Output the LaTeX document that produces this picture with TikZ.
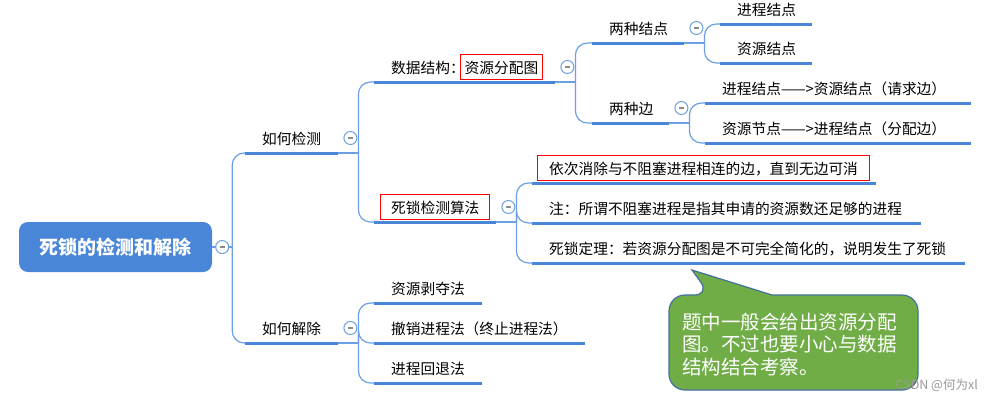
\documentclass[tikz,border=0pt]{standalone}
\usepackage{fontspec}
\setmainfont{Noto Sans CJK SC}
\definecolor{mapblue}{HTML}{4A86D8}
\definecolor{linkblue}{HTML}{6C9FE4}
\definecolor{notegreen}{HTML}{70AD47}
\definecolor{noteline}{HTML}{41719C}
\newcommand{\hl}[2]{{\fboxsep=4pt\fboxrule=1pt\kern-#1\fcolorbox{red}{white}{\kern\dimexpr#1-5pt\relax\rule[-1.5pt]{0pt}{16pt}#2\kern\dimexpr#1-5pt\relax}\kern-#1}}
\newcommand{\foldbar}{\textcolor{black!45}{\rule[-0.6pt]{5pt}{1.2pt}}}

\begin{document}
\begin{tikzpicture}[x=1pt, y=-1pt, every node/.style={font=\fontsize{14.7}{17}\selectfont},
		item/.style={anchor=south west, inner xsep=17pt, inner ysep=6.7pt, align=left,
			text height=12pt, text depth=2pt},
		uline/.style={draw=mapblue, line width=3pt},
		link/.style={draw=linkblue, line width=1.2pt, rounded corners=12pt},
		fold/.style={circle, draw=linkblue, fill=white, line width=1pt, minimum size=13pt, inner sep=0pt},
		root/.style={rectangle, rounded corners=9pt, fill=mapblue, text=white,
			font=\fontsize{19}{22}\selectfont\bfseries, minimum width=193pt, minimum height=50pt, inner sep=0pt},
		note/.style={fill=notegreen, draw=noteline, line width=1.2pt},
		notetext/.style={anchor=west, align=left, inner sep=0pt, text=white, font=\fontsize{19.5}{22.5}\selectfont}]
	\fill[white] (0,0) rectangle (993,400);
	\useasboundingbox (0,0) rectangle (993,400);

	\node[root] (dl) at (115.5,247) {死锁的检测和解除};

	\node[item, text width=59pt] (hd) at (245,153) {如何检测};
	\node[item, text width=59pt] (hr) at (245,343) {如何解除};

	\node[item, text width=147pt] (ds) at (374,82) {数据结构：\hl{5pt}{资源分配图}};
	\node[item, text width=88pt] (da) at (374,222) {\hl{11pt}{死锁检测算法}};

	\node[item, text width=58pt] (tk) at (592,43) {两种结点};
	\node[item, text width=43pt] (tb) at (592,123) {两种边};
	\node[item, text width=58pt] (pn) at (720,24) {进程结点};
	\node[item, text width=58pt] (rn) at (720,63) {资源结点};
	\node[item, text width=232pt] (re) at (705,103) {进程结点——>资源结点（请求边）};
	\node[item, text width=232pt] (ae) at (705,143) {资源节点——>进程结点（分配边）};

	\node[item, text width=310pt] (c1) at (532,183) {\hl{12pt}{依次消除与不阻塞进程相连的边，直到无边可消}};
	\node[item, text width=355pt] (c2) at (532,223) {注：所谓不阻塞进程是指其申请的资源数还足够的进程};
	\node[item, text width=399pt] (c3) at (532,263) {死锁定理：若资源分配图是不可完全简化的，说明发生了死锁};

	\node[item, text width=74pt] (r1) at (374,303) {资源剥夺法};
	\node[item, text width=177pt] (r2) at (374,343) {撤销进程法（终止进程法）};
	\node[item, text width=74pt] (r3) at (374,383) {进程回退法};

	\foreach \n in {hd,hr,ds,da,tk,tb,pn,rn,re,ae,c1,c2,c3,r1,r2,r3}
		\draw[uline] (\n.south west) -- (\n.south east);

	\coordinate (jdl) at ([xshift=20pt]dl.east);
	\draw[link] (dl.east) -- (jdl);
	\foreach \c in {hd,hr}
		\draw[link] (jdl) |- (\c.south west);

	\foreach \p/\kids in {hd/{ds,da}, hr/{r1,r2,r3}, ds/{tk,tb}, tk/{pn,rn}, tb/{re,ae}, da/{c1,c2,c3}} {
		\coordinate (j\p) at ([xshift=20pt]\p.south east);
		\draw[link] (\p.south east) -- (j\p);
		\foreach \c in \kids
			\draw[link] (j\p) |- (\c.south west);
	}

	\node[fold] (fdl) at ([xshift=10pt]dl.east) {\foldbar};
	\foreach \p in {hd,hr,ds,tk,tb,da}
		\node[fold] (f\p) at ([shift={(12,-15)}]\p.south east) {\foldbar};

	\draw[note] (800,295) [rounded corners=16pt] -- (918,295) -- (918,390) -- (669,390) -- (669,295)
		-- (710,295) [sharp corners] -- (692,270) -- (772,295) -- cycle;
	\node[notetext] (nt) at (682,344.5) {题中一般会给出资源分配\\图。不过也要小心与数据\\结构结合考察。};

	\node[anchor=east, text=black!40, font=\fontsize{12.5}{14}\selectfont, inner sep=0pt] (wm) at (978,385) {CSDN @何为xl};
\end{tikzpicture}
\end{document}
